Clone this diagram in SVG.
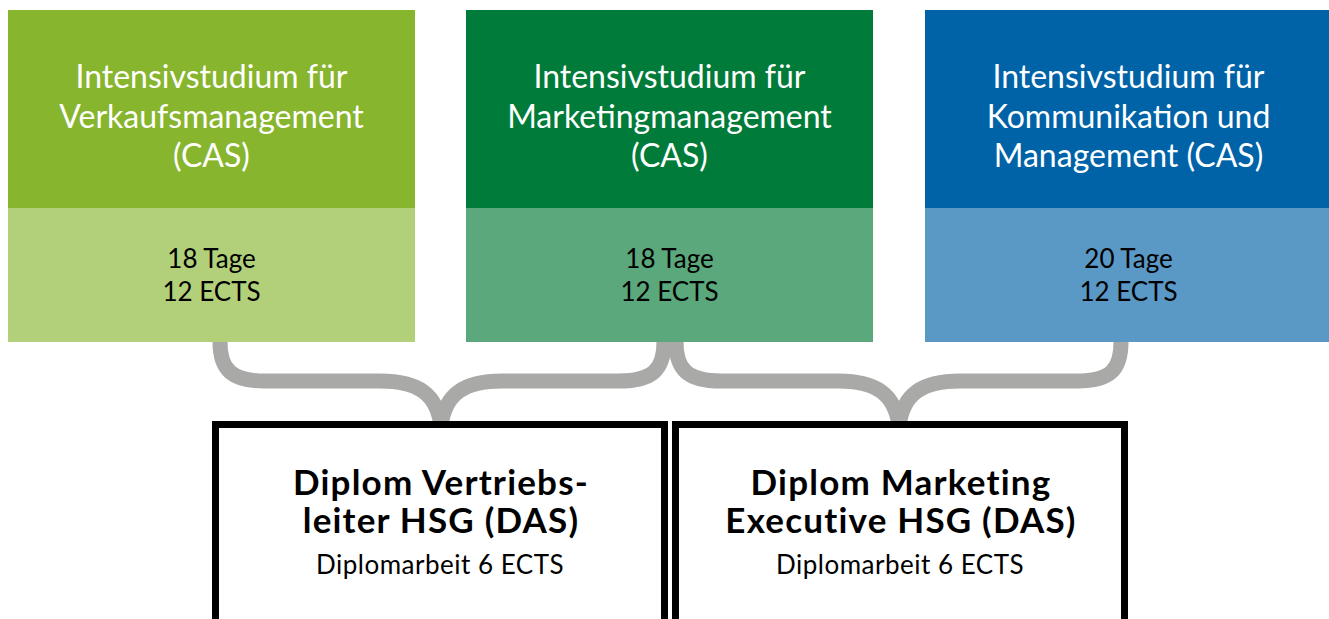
<svg xmlns="http://www.w3.org/2000/svg" width="1329" height="619" viewBox="0 0 1329 619">
  <style>
    .title { font-family: Lato, "Open Sans", "Liberation Sans", sans-serif; font-size: 32px; fill: #ffffff; text-anchor: middle; }
    .info { font-family: Lato, "Open Sans", "Liberation Sans", sans-serif; font-size: 26px; fill: #000000; text-anchor: middle; }
    .dip { font-family: Lato, "Open Sans", "Liberation Sans", sans-serif; font-size: 35px; font-weight: bold; letter-spacing: 1.2px; fill: #000000; text-anchor: middle; }
    .sub { font-family: Lato, "Open Sans", "Liberation Sans", sans-serif; font-size: 26px; letter-spacing: 0.5px; fill: #000000; text-anchor: middle; }
    .brace { fill: none; stroke: #a9a9a8; stroke-width: 15; stroke-linecap: butt; stroke-linejoin: round; }
    .frame { fill: #ffffff; stroke: #000000; stroke-width: 7; }
  </style>
  <rect width="1329" height="619" fill="#ffffff"/>

  <!-- curly braces joining the CAS modules to the diplomas -->
  <g id="connectors">
    <path class="brace" d="M220,342 C220,370 232,381 265,381 L380,381 C418,381 437,394 441,426 C445,394 464,381 502,381 L619,381 C652,381 664,370 664,342"/>
    <path class="brace" d="M676,342 C676,370 688,381 721,381 L838,381 C876,381 895,394 899,426 C903,394 922,381 960,381 L1077,381 C1110,381 1121,370 1121,342"/>
  </g>

  <g id="cas-verkauf">
    <rect x="8" y="10" width="407" height="198" fill="#87b52d"/>
    <rect x="8" y="208" width="407" height="134" fill="#b2d07a"/>
    <text class="title" x="211.5" y="88">Intensivstudium für</text>
    <text class="title" x="211.5" y="128">Verkaufsmanagement</text>
    <text class="title" x="211.5" y="167">(CAS)</text>
    <text class="info" x="211.5" y="268">18 Tage</text>
    <text class="info" x="211.5" y="301">12 ECTS</text>
  </g>

  <g id="cas-marketing">
    <rect x="466" y="10" width="407" height="198" fill="#007b39"/>
    <rect x="466" y="208" width="407" height="134" fill="#5aa87b"/>
    <text class="title" x="669.5" y="88">Intensivstudium für</text>
    <text class="title" x="669.5" y="128">Marketingmanagement</text>
    <text class="title" x="669.5" y="167">(CAS)</text>
    <text class="info" x="669.5" y="268">18 Tage</text>
    <text class="info" x="669.5" y="301">12 ECTS</text>
  </g>

  <g id="cas-kommunikation">
    <rect x="925" y="10" width="407" height="198" fill="#0063a7"/>
    <rect x="925" y="208" width="407" height="134" fill="#5a98c5"/>
    <text class="title" x="1128.5" y="88">Intensivstudium für</text>
    <text class="title" x="1128.5" y="128">Kommunikation und</text>
    <text class="title" x="1128.5" y="167">Management (CAS)</text>
    <text class="info" x="1128.5" y="268">20 Tage</text>
    <text class="info" x="1128.5" y="301">12 ECTS</text>
  </g>

  <g id="das-vertrieb">
    <rect class="frame" x="215.5" y="424.5" width="449" height="198"/>
    <text class="dip" x="441" y="495">Diplom Vertriebs-</text>
    <text class="dip" x="441" y="533">leiter HSG (DAS)</text>
    <text class="sub" x="440" y="574">Diplomarbeit 6 ECTS</text>
  </g>

  <g id="das-marketing">
    <rect class="frame" x="675.5" y="424.5" width="449" height="198"/>
    <text class="dip" x="901" y="495">Diplom Marketing</text>
    <text class="dip" x="901" y="533">Executive HSG (DAS)</text>
    <text class="sub" x="900" y="574">Diplomarbeit 6 ECTS</text>
  </g>
</svg>
